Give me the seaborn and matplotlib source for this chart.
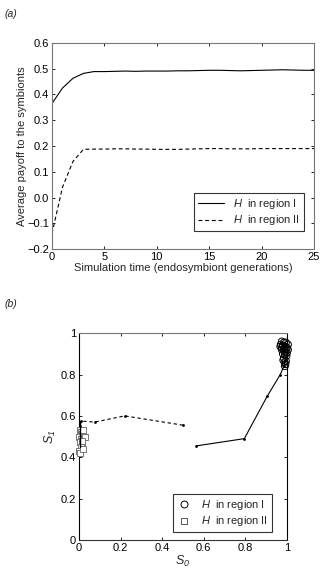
# Two-panel figure: payoff over time (a) and strategy trajectories (b)
import numpy as np
import pandas as pd
import matplotlib
matplotlib.use("Agg")
import matplotlib.pyplot as plt
import seaborn as sns
from matplotlib.lines import Line2D

sns.set_theme(style="ticks")
plt.rcParams['font.family'] = ['Liberation Sans', 'DejaVu Sans']
plt.rcParams['mathtext.fontset'] = 'custom'
plt.rcParams['mathtext.rm'] = 'Liberation Sans'
plt.rcParams['mathtext.it'] = 'Liberation Sans:italic'
# italic digits for the subscripts (the 'it' slot forces digits upright)
plt.rcParams['mathtext.sf'] = 'Liberation Sans:italic'

# ---- panel (a) data ----
gen = list(range(26))
payoff_region1 = [0.365, 0.425, 0.463, 0.482, 0.489, 0.489, 0.490, 0.491, 0.490, 0.491,
                  0.491, 0.491, 0.492, 0.492, 0.493, 0.494, 0.494, 0.493, 0.492, 0.493,
                  0.494, 0.495, 0.496, 0.495, 0.494, 0.494]
payoff_region2 = [-0.14, 0.04, 0.14, 0.187, 0.188, 0.188, 0.189, 0.189, 0.188, 0.188,
                  0.187, 0.187, 0.187, 0.188, 0.189, 0.190, 0.190, 0.189, 0.189, 0.189,
                  0.190, 0.190, 0.190, 0.190, 0.190, 0.190]

# ---- panel (b) data ----
traj1_s0 = [0.565, 0.795, 0.905, 0.968, 0.985, 0.99]
traj1_s1 = [0.455, 0.49, 0.695, 0.80, 0.84, 0.87]
traj2_s0 = [0.50, 0.22, 0.075, 0.01, 0.005, 0.004]
traj2_s1 = [0.555, 0.60, 0.57, 0.575, 0.55, 0.50]

circ_s0 = [0.975, 0.985, 0.995, 0.97, 0.98, 0.99, 1.0, 1.005, 0.975, 0.985, 0.995, 0.968,
           0.975, 0.99, 1.0, 1.005, 0.98, 0.99, 0.998, 0.985, 0.982, 0.995, 0.988, 0.993, 0.99]
circ_s1 = [0.96, 0.955, 0.955, 0.945, 0.94, 0.935, 0.93, 0.945, 0.93, 0.925, 0.92, 0.935,
           0.92, 0.91, 0.905, 0.92, 0.90, 0.895, 0.89, 0.88, 0.87, 0.865, 0.86, 0.85, 0.84]
sq_s0 = [0.005, 0.01, 0.015, 0.0, 0.02, 0.01, 0.005, 0.025, 0.015, 0.01, 0.0, 0.005, 0.02, 0.03, 0.015]
sq_s1 = [0.53, 0.52, 0.51, 0.50, 0.53, 0.49, 0.475, 0.50, 0.46, 0.45, 0.43, 0.42, 0.44, 0.50, 0.48]

fs = 8
fig = plt.figure(figsize=(3.25, 5.81), dpi=100)

def style_axes(ax, spine_colors):
    for side, c in spine_colors.items():
        ax.spines[side].set_color(c)
        ax.spines[side].set_linewidth(0.8)
    ax.tick_params(direction='in', length=2.5, width=0.6, top=True, right=True,
                   labelsize=fs, pad=2, colors='black')

# ---- (a) ----
ax1 = fig.add_axes([0.16, 0.5714, 0.806, 0.3546])
df_a = pd.DataFrame({'t': gen, 'r1': payoff_region1, 'r2': payoff_region2})
sns.lineplot(data=df_a, x='t', y='r1', ax=ax1, color='black', lw=0.8)
sns.lineplot(data=df_a, x='t', y='r2', ax=ax1, color='black', lw=0.8, dashes=False)
ax1.lines[1].set_dashes([3.5, 2.5])
ax1.set_xlim(0, 25)
ax1.set_ylim(-0.2, 0.6)
ax1.set_xticks([0, 5, 10, 15, 20, 25])
ax1.set_yticks(np.round(np.arange(-0.2, 0.61, 0.1), 1))
ax1.set_xlabel('Simulation time (endosymbiont generations)', fontsize=fs, labelpad=1)
ax1.set_ylabel('Average payoff to the symbionts', fontsize=fs, labelpad=0)
style_axes(ax1, {'left': '#777777', 'right': '#777777', 'top': '#777777', 'bottom': '#777777'})
h1 = [Line2D([], [], color='black', lw=0.8),
      Line2D([], [], color='black', lw=0.8, dashes=[3.5, 2.5])]
leg1 = ax1.legend(h1, [r'$\mathit{H}$  in region I', r'$\mathit{H}$  in region II'],
                  loc='lower right', bbox_to_anchor=(0.97, 0.075), fontsize=fs,
                  frameon=True, fancybox=False, edgecolor='black', handlelength=2.4,
                  borderpad=0.35, labelspacing=0.25, handletextpad=0.8,
                  borderaxespad=0.2)
leg1.get_frame().set_linewidth(0.8)
fig.text(0.015, 0.985, '(a)', fontsize=fs - 0.5, style='italic', va='top')

# ---- (b) ----
ax2 = fig.add_axes([0.243, 0.0706, 0.64, 0.356])
sns.lineplot(x=traj1_s0, y=traj1_s1, ax=ax2, color='black', lw=0.8, sort=False,
             marker='o', markersize=2, markeredgewidth=0)
sns.lineplot(x=traj2_s0, y=traj2_s1, ax=ax2, color='black', lw=0.8, sort=False,
             marker='o', markersize=2, markeredgewidth=0)
ax2.lines[1].set_dashes([3, 2.5])
sns.scatterplot(x=circ_s0, y=circ_s1, ax=ax2, marker='o', s=24, facecolor='none',
                edgecolor='black', linewidth=0.7, zorder=3, clip_on=False)
sns.scatterplot(x=sq_s0, y=sq_s1, ax=ax2, marker='s', s=24, facecolor='white',
                edgecolor='#777777', linewidth=0.7, zorder=3, clip_on=False)
ax2.plot([0.004, 0.004], [0.575, 0.45], color='black', lw=1.0, zorder=4)
ax2.set_xlim(0, 1)
ax2.set_ylim(0, 1)
ax2.set_xticks([0, 0.2, 0.4, 0.6, 0.8, 1])
ax2.set_xticklabels(['0', '0.2', '0.4', '0.6', '0.8', '1'])
ax2.set_yticks([0, 0.2, 0.4, 0.6, 0.8, 1])
ax2.set_yticklabels(['0', '0.2', '0.4', '0.6', '0.8', '1'])
ax2.set_xlabel(r'$S_{\mathsf{0}}$', fontsize=fs + 1, labelpad=1)
ax2.set_ylabel(r'$S_{\mathsf{1}}$', fontsize=fs + 1, labelpad=2)
style_axes(ax2, {'left': 'black', 'right': 'black', 'top': '#777777', 'bottom': '#333333'})
h2 = [Line2D([], [], ls='none', marker='o', ms=5, mfc='none', mec='black', mew=0.7),
      Line2D([], [], ls='none', marker='s', ms=4, mfc='white', mec='#555555', mew=0.7)]
leg2 = ax2.legend(h2, [r'$\mathit{H}$  in region I', r'$\mathit{H}$  in region II'],
                  loc='lower right', bbox_to_anchor=(0.955, 0.01), fontsize=fs,
                  frameon=True, fancybox=False, edgecolor='black', handlelength=1.2,
                  borderpad=0.35, labelspacing=0.25, handletextpad=1.0)
leg2.get_frame().set_linewidth(0.8)
fig.text(0.015, 0.485, '(b)', fontsize=fs - 0.5, style='italic', va='top')

fig.savefig('out.png', dpi=100)
